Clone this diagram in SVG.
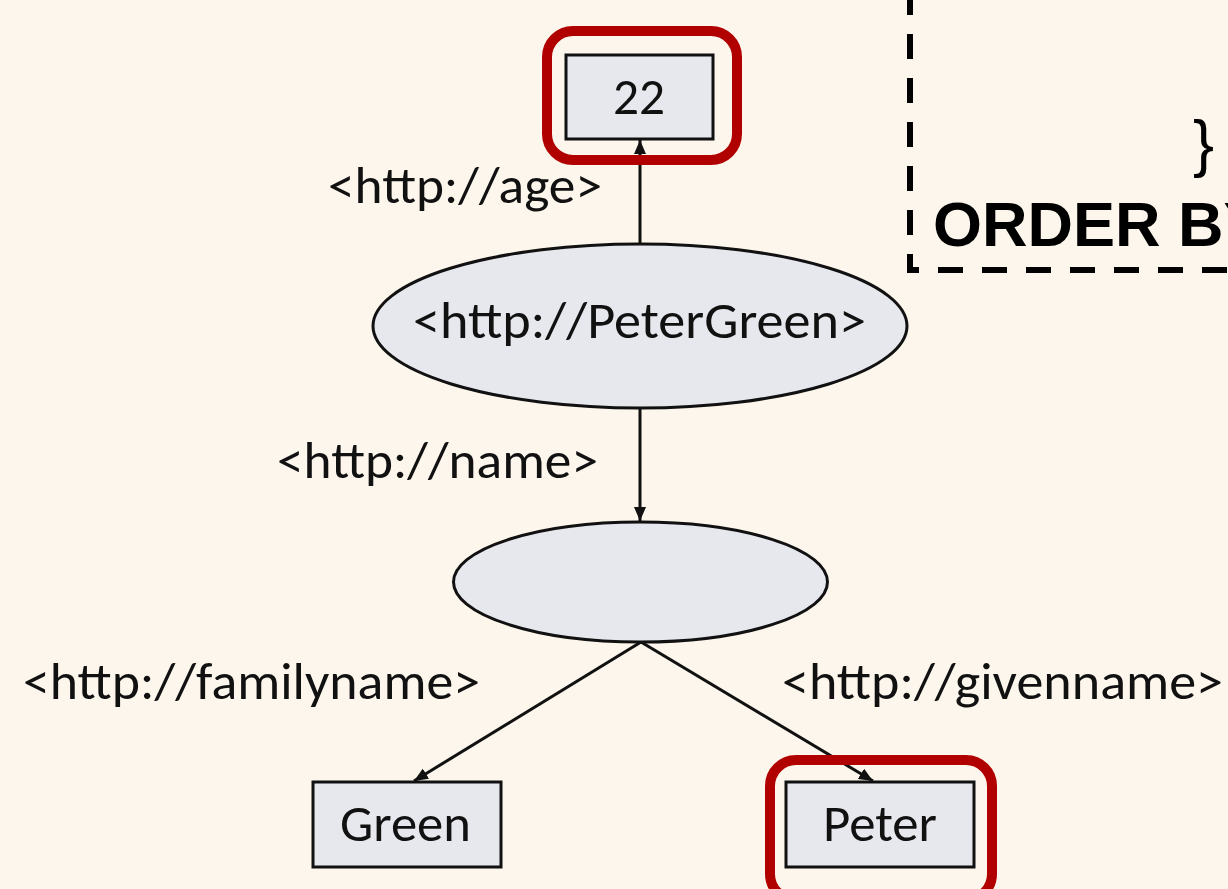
<svg xmlns="http://www.w3.org/2000/svg" width="1228" height="889" viewBox="0 0 1228 889">
<style>
.lbl{font-family:Carlito,Calibri,Lato,"Open Sans",sans-serif;font-size:52px;fill:#111}
.box{fill:#e7e8ee;stroke:#111;stroke-width:3}
.ell{fill:#e7e8ee;stroke:#111;stroke-width:3}
.hl{fill:none;stroke:#b00000;stroke-width:10}
.edge{stroke:#111;stroke-width:3;fill:none;marker-end:url(#ah)}
.q{font-family:"Liberation Sans",Arial,sans-serif;font-size:63px;fill:#000}
</style>
<defs>
<marker id="ah" viewBox="0 0 14 12" refX="14" refY="6" markerWidth="14" markerHeight="12" markerUnits="userSpaceOnUse" orient="auto">
<path d="M0,0 L14,6 L0,12 Z" fill="#111"/>
</marker>
</defs>
<rect x="0" y="0" width="1228" height="889" fill="#fdf6ec"/>

<g id="query">
<path d="M910,-10 V270 H1240" fill="none" stroke="#000" stroke-width="6" stroke-dasharray="25 19"/>
<text class="q" x="1193" y="165">}</text>
<text class="q" x="933" y="246" font-weight="bold">ORDER BY</text>
</g>

<g id="connectors">
<line class="edge" x1="640" y1="244" x2="640" y2="140"/>
<line class="edge" x1="640" y1="408" x2="640" y2="521"/>
<line class="edge" x1="641" y1="642" x2="414" y2="781"/>
<line class="edge" x1="641" y1="642" x2="873" y2="781"/>
<text class="lbl" x="328" y="203" textLength="274" lengthAdjust="spacingAndGlyphs">&lt;http://age&gt;</text>
<text class="lbl" x="277" y="478" textLength="321" lengthAdjust="spacingAndGlyphs">&lt;http://name&gt;</text>
<text class="lbl" x="23" y="699" textLength="457" lengthAdjust="spacingAndGlyphs">&lt;http://familyname&gt;</text>
<text class="lbl" x="782" y="699" textLength="441" lengthAdjust="spacingAndGlyphs">&lt;http://givenname&gt;</text>
</g>

<g id="node-age">
<rect class="hl" x="547" y="31" width="190" height="129" rx="26"/>
<rect class="box" x="566" y="55" width="147" height="84"/>
<text class="lbl" x="613" y="114" textLength="52" lengthAdjust="spacingAndGlyphs">22</text>
</g>

<g id="node-petergreen">
<ellipse class="ell" cx="640" cy="326" rx="267" ry="82"/>
<text class="lbl" x="413" y="338" textLength="453" lengthAdjust="spacingAndGlyphs">&lt;http://PeterGreen&gt;</text>
</g>

<g id="node-blank">
<ellipse class="ell" cx="640.5" cy="582" rx="187" ry="60"/>
</g>

<g id="node-green">
<rect class="box" x="313" y="782" width="188" height="85"/>
<text class="lbl" x="340" y="841" textLength="131" lengthAdjust="spacingAndGlyphs">Green</text>
</g>

<g id="node-peter">
<rect class="hl" x="770" y="760" width="222" height="140" rx="26"/>
<rect class="box" x="786" y="782" width="188" height="85"/>
<text class="lbl" x="823" y="841" textLength="114" lengthAdjust="spacingAndGlyphs">Peter</text>
</g>
</svg>
